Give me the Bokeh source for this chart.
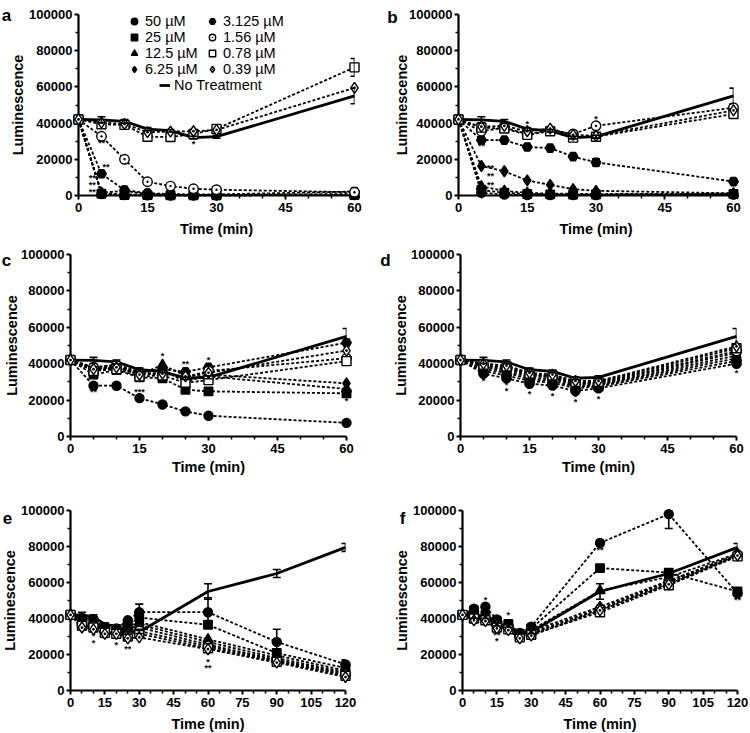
import math
from bokeh.plotting import figure
from bokeh.layouts import column, row
from bokeh.models import (Range1d, FixedTicker, NumeralTickFormatter, Legend,
                          LegendItem, Whisker, ColumnDataSource, TeeHead)
from bokeh.core.properties import value
from bokeh.embed import file_html
from bokeh.resources import INLINE

# ---------------- data ----------------
t60 = [0, 5, 10, 15, 20, 25, 30, 60]
t120 = [0, 5, 10, 15, 20, 25, 30, 60, 90, 120]

x_ticks60 = [0, 15, 30, 45, 60]
x_minor60 = [5, 10, 20, 25, 35, 40, 50, 55]
x_ticks120 = [0, 15, 30, 45, 60, 75, 90, 105, 120]
x_minor120 = [5, 10, 20, 25, 35, 40, 50, 55, 65, 70, 80, 85, 95, 100, 110, 115]
y_ticks = [0, 20000, 40000, 60000, 80000, 100000]
y_minor = [10000, 30000, 50000, 70000, 90000]

conc_labels = ["50 µM", "25 µM", "12.5 µM", "6.25 µM", "3.125 µM", "1.56 µM", "0.78 µM", "0.39 µM"]

# No treatment control (same in every panel)
ctrl60 = [42000, 41800, 41000, 36700, 35800, 32000, 32500, 55000]
ctrl60_err = [0, 1700, 1000, 900, 700, 700, 800, 4300]
ctrl120 = [42000, 41800, 41000, 36700, 35800, 32000, 32500, 55000, 65000, 79500]
ctrl120_err = [0, 1700, 1000, 900, 700, 700, 800, 4300, 2200, 2200]

# panel a
a_50 = [42000, 800, 200, 100, 100, 100, 100, 300]
a_25 = [42000, 1000, 300, 200, 100, 100, 100, 300]
a_12 = [42000, 1200, 600, 300, 200, 200, 200, 500]
a_6 = [42000, 1600, 2500, 800, 400, 300, 300, 800]
a_3 = [42000, 12000, 3000, 1300, 800, 600, 600, 2200]
a_1 = [42000, 32700, 20000, 7600, 5200, 3700, 3200, 1800]
a_07 = [42000, 39400, 39000, 32500, 32300, 34000, 36800, 70800]
a_03 = [42000, 40300, 39500, 35000, 35300, 35500, 36200, 59500]
a_07_err = [0, 0, 0, 0, 0, 0, 0, 4900]
a_star_x = [5, 6, 3, 3, 3, 25]
a_star_y = [28800, 16000, 9500, 5800, 2200, 28500]
a_star_t = ["**", "**", "**", "**", "**", "*"]

# panel b
b_50 = [42000, 1500, 500, 300, 200, 200, 200, 500]
b_25 = [42000, 3000, 1500, 800, 600, 500, 500, 800]
b_12 = [42000, 5000, 2500, 1500, 1000, 1000, 800, 1000]
b_6 = [42000, 16300, 13400, 8300, 5900, 3500, 2600, 1200]
b_3 = [42000, 30600, 30600, 26800, 26200, 21500, 18300, 7700]
b_1 = [42000, 35500, 37500, 34000, 36000, 34000, 38500, 48500]
b_07 = [42000, 37500, 37000, 33500, 35500, 32000, 32500, 45000]
b_03 = [42000, 38000, 38500, 35500, 37000, 33500, 33000, 47000]
b_3_err = [0, 0, 0, 0, 0, 0, 1800, 0]
b_star_x = [15, 30, 5, 7, 7, 7]
b_star_y = [39500, 42000, 27500, 15000, 10500, 6000]
b_star_t = ["*", "*", "**", "**", "**", "**"]

# panel c
c_50 = [42000, 27900, 27900, 21100, 17600, 13800, 11400, 7500]
c_25 = [42000, 34000, 36500, 32500, 32000, 25700, 24800, 23700]
c_12 = [42000, 36000, 38000, 34000, 39300, 33500, 33000, 26100]
c_6 = [42000, 37000, 38500, 35000, 36500, 30000, 34000, 29200]
c_3 = [42000, 38000, 39500, 35500, 37000, 35500, 38000, 51500]
c_1 = [42000, 38000, 39000, 34500, 35000, 32500, 36000, 43000]
c_07 = [42000, 36000, 37000, 33000, 33500, 29500, 31000, 41400]
c_03 = [42000, 37000, 38000, 34000, 34500, 33000, 35000, 47200]
c_star_x = [20, 25, 30, 5, 15, 60, 5.5]
c_star_y = [44500, 40000, 42000, 24300, 24500, 19500, 31500]
c_star_t = ["*", "**", "*", "**", "***", "*", "*"]

# panel d
d_50 = [42000, 34500, 32000, 29000, 28000, 25000, 26500, 40000]
d_25 = [42000, 36000, 33500, 30500, 29500, 26500, 27500, 41500]
d_12 = [42000, 37000, 35000, 31500, 30500, 27500, 28000, 43000]
d_6 = [42000, 38000, 36000, 32500, 31500, 28500, 28500, 44500]
d_3 = [42000, 38500, 37000, 33500, 32500, 29000, 29000, 46000]
d_1 = [42000, 39000, 38000, 34000, 33000, 29500, 29500, 47000]
d_07 = [42000, 39500, 38500, 34500, 33500, 30000, 30000, 48500]
d_03 = [42000, 40000, 39000, 35000, 34000, 30500, 30500, 49500]
d_star_x = [5, 10, 10, 15, 15, 20, 20, 25, 25, 30, 30, 60]
d_star_y = [30300, 28500, 25000, 27500, 23500, 27500, 22500, 21500, 18800, 24500, 20800, 35000]
d_star_t = ["*", "*", "*", "*", "*", "*", "*", "*", "*", "*", "*", "*"]

# panel e
e_50 = [42000, 40500, 39500, 35000, 34500, 39000, 43500, 43500, 27000, 14500]
e_25 = [42000, 39500, 38500, 34500, 34000, 37000, 40500, 36500, 20800, 12500]
e_12 = [42000, 39000, 38000, 34000, 33500, 35500, 38000, 28400, 19500, 11000]
e_6 = [42000, 38000, 37000, 33500, 33000, 34000, 36500, 27000, 18000, 10200]
e_3 = [42000, 37500, 36500, 33000, 32500, 32500, 35000, 25500, 17000, 9500]
e_1 = [42000, 36500, 35500, 32500, 32000, 31000, 33000, 24500, 16500, 8800]
e_07 = [42000, 36000, 35000, 32000, 31500, 30000, 31500, 23500, 16000, 8200]
e_03 = [42000, 35000, 34000, 31500, 31500, 29000, 29500, 23000, 15500, 7500]
e_50_err = [0, 0, 0, 0, 0, 0, 4500, 8000, 7000, 2500]
e_star_x = [10, 10, 15, 20, 20, 25, 25, 25, 60, 60, 60]
e_star_y = [30500, 26500, 29000, 28500, 25500, 26500, 23000, 40000, 19500, 16000, 12500]
e_star_t = ["*", "*", "**", "*", "*", "*", "**", "*", "*", "*", "**"]

# panel f
f_50 = [42000, 45500, 46500, 39500, 36500, 32000, 35500, 82000, 98000, 54000]
f_25 = [42000, 44500, 42000, 38500, 37000, 31500, 34500, 68000, 65500, 55000]
f_12 = [42000, 43000, 41000, 37500, 36000, 31000, 33500, 55500, 63000, 76000]
f_6 = [42000, 42000, 40500, 37000, 35500, 30500, 33000, 46500, 61000, 75500]
f_3 = [42000, 41000, 40000, 36500, 35000, 30500, 32000, 45500, 60500, 75500]
f_1 = [42000, 40500, 39500, 36000, 34500, 30000, 31500, 45000, 59500, 75000]
f_07 = [42000, 40000, 39000, 35000, 34000, 29500, 31000, 43500, 58500, 74500]
f_03 = [42000, 39000, 38500, 34500, 33500, 29000, 30500, 44500, 59000, 75000]
f_50_err = [0, 0, 0, 0, 0, 0, 1500, 1500, 8000, 0]
f_star_x = [10, 15, 15, 20, 25, 60, 120]
f_star_y = [50500, 31000, 27500, 41800, 26500, 77800, 50300]
f_star_t = ["*", "**", "*", "*", "*", "**", "**"]

# ---------------- styling ----------------
MARKERS = ["circle", "square", "triangle", "diamond", "hex", "circle_dot", "square", "diamond_dot"]
FILLED = [True, True, True, True, True, False, False, False]
SIZES = [9, 8.5, 10, 11, 9.5, 9.5, 9, 11]
FONT = "Liberation Sans"


def add_whisker(p, times, vals, errs, width=1.6):
    xs, up, lo = [], [], []
    for t, v, e in zip(times, vals, errs):
        if e > 0:
            xs.append(t)
            up.append(min(v + e, 100000))
            lo.append(max(v - e, 0))
    if not xs:
        return
    src = ColumnDataSource(dict(x=xs, up=up, lo=lo))
    w = Whisker(source=src, base="x", upper="up", lower="lo", dimension="height",
                line_color="black", line_width=width, level="overlay",
                upper_head=TeeHead(size=8, line_width=width, line_color="black"),
                lower_head=TeeHead(size=8, line_width=width, line_color="black"))
    p.add_layout(w)


def add_text(p, x, y, txt, dx, dy, size, align, baseline, angle=0.0, style="bold"):
    # text anchored at an axis position, shifted by a pixel offset (dy > 0 moves down)
    p.text(x=[x], y=[y], text=[txt], x_offset=dx, y_offset=dy, angle=angle,
           text_font=value(FONT), text_font_style=style, text_font_size=size,
           text_align=align, text_baseline=baseline, text_color="black", level="overlay")


def build(letter, times, series, ctrl, ctrl_err, extra_err, stars, xt, xm, size, geom, lab,
          legend=False):
    W, H = size
    left, top, fw, fh = geom
    right = W - left - fw
    bottom = H - top - fh
    p = figure(width=W, height=H, output_backend="svg", toolbar_location=None,
               x_range=Range1d(0, xt[-1]), y_range=Range1d(0, 100000),
               min_border_left=left, min_border_right=right,
               min_border_top=top, min_border_bottom=bottom)
    p.outline_line_color = None
    p.xgrid.visible = False
    p.ygrid.visible = False

    p.xaxis.ticker = FixedTicker(ticks=xt, minor_ticks=xm)
    p.yaxis.ticker = FixedTicker(ticks=y_ticks, minor_ticks=y_minor)
    p.yaxis.formatter = NumeralTickFormatter(format="0")
    for ax in (p.xaxis[0], p.yaxis[0]):
        ax.axis_line_width = 2.2
        ax.axis_line_color = "black"
        ax.major_tick_line_width = 2
        ax.major_tick_out = 4
        ax.major_tick_in = 0
        ax.minor_tick_line_width = 1.5
        ax.minor_tick_out = 3
        ax.minor_tick_in = 0
        ax.major_label_text_font = FONT
        ax.major_label_text_font_style = "bold"
        ax.major_label_text_font_size = "13px"
        ax.major_label_text_color = "black"
    p.xaxis.major_label_standoff = 3
    p.yaxis.major_label_standoff = 2

    # dashed series lines
    for vals in series:
        p.line(times, vals, line_dash="3 2", line_width=1.8, line_color="black", level="overlay")
    # control
    ctrl_r = p.line(times, ctrl, line_width=2.8, line_color="black", level="overlay")
    add_whisker(p, times, ctrl, ctrl_err)
    for vals, errs in extra_err:
        add_whisker(p, times, vals, errs)
    # significance asterisks
    sx, sy, st = stars
    p.text(x=sx, y=sy, text=st, text_font=value(FONT), text_font_style="bold",
           text_font_size="9px", text_align="center", text_baseline="middle",
           text_color="black", level="overlay")
    # markers
    marker_rs = []
    for i, vals in enumerate(series):
        r = p.scatter(times, vals, marker=MARKERS[i], size=SIZES[i],
                      fill_color="black" if FILLED[i] else "white",
                      line_color="black", line_width=1.4, level="overlay")
        marker_rs.append(r)

    # panel letter and axis titles, anchored on the axes
    lx, ly, yx, xy = lab
    x0, x1 = xt[0], xt[-1]
    add_text(p, x0, 100000, letter, lx, -ly, "17px", "center", "alphabetic")
    add_text(p, x0, 50000, "Luminescence", yx, 0, "14.5px", "center", "middle", angle=math.pi / 2)
    add_text(p, (x0 + x1) / 2, 0, "Time (min)", 0, xy, "14.5px", "center", "middle")

    if legend:
        common = dict(padding=0, margin=0, border_line_color=None, background_fill_alpha=0,
                      label_text_font=FONT, label_text_font_size="14.5px", label_height=16,
                      glyph_height=16, spacing=0, label_text_color="black")
        col1 = Legend(items=[LegendItem(label=conc_labels[i], renderers=[marker_rs[i]]) for i in range(4)],
                      location=(48, fh - 63), glyph_width=16, label_standoff=3, **common)
        col2 = Legend(items=[LegendItem(label=conc_labels[i], renderers=[marker_rs[i]]) for i in range(4, 8)],
                      location=(126, fh - 63), glyph_width=16, label_standoff=3, **common)
        col3 = Legend(items=[LegendItem(label="No Treatment", renderers=[ctrl_r])],
                      location=(81, fh - 79), glyph_width=11, label_standoff=4, **common)
        for lg in (col1, col2, col3):
            p.add_layout(lg)
    return p


pa = build("a", t60, [a_50, a_25, a_12, a_6, a_3, a_1, a_07, a_03], ctrl60, ctrl60_err,
           [(a_07, a_07_err)], (a_star_x, a_star_y, a_star_t), x_ticks60, x_minor60,
           (375, 245), (78, 14, 276, 181), (-72, -1, -61, 33), legend=True)
pb = build("b", t60, [b_50, b_25, b_12, b_6, b_3, b_1, b_07, b_03], ctrl60, ctrl60_err,
           [(b_3, b_3_err)], (b_star_x, b_star_y, b_star_t), x_ticks60, x_minor60,
           (375, 245), (83, 14, 275, 181), (-66, -3, -57, 33))
pc = build("c", t60, [c_50, c_25, c_12, c_6, c_3, c_1, c_07, c_03], ctrl60, ctrl60_err,
           [], (c_star_x, c_star_y, c_star_t), x_ticks60, x_minor60,
           (375, 245), (70, 9, 276, 182), (-64, -6, -59, 30))
pd = build("d", t60, [d_50, d_25, d_12, d_6, d_3, d_1, d_07, d_03], ctrl60, ctrl60_err,
           [], (d_star_x, d_star_y, d_star_t), x_ticks60, x_minor60,
           (375, 245), (85, 9, 276, 182), (-75, -6, -60, 30))
pe = build("e", t120, [e_50, e_25, e_12, e_6, e_3, e_1, e_07, e_03], ctrl120, ctrl120_err,
           [(e_50, e_50_err)], (e_star_x, e_star_y, e_star_t), x_ticks120, x_minor120,
           (375, 243), (70, 16, 275, 184), (-63, -7, -61, 33))
pf = build("f", t120, [f_50, f_25, f_12, f_6, f_3, f_1, f_07, f_03], ctrl120, ctrl120_err,
           [(f_50, f_50_err)], (f_star_x, f_star_y, f_star_t), x_ticks120, x_minor120,
           (375, 243), (87, 20, 275, 182), (-60, -8, -61, 33))

layout = column(row(pa, pb), row(pc, pd), row(pe, pf))

with open("out.html", "w") as fh_out:
    fh_out.write(file_html(layout, INLINE))
